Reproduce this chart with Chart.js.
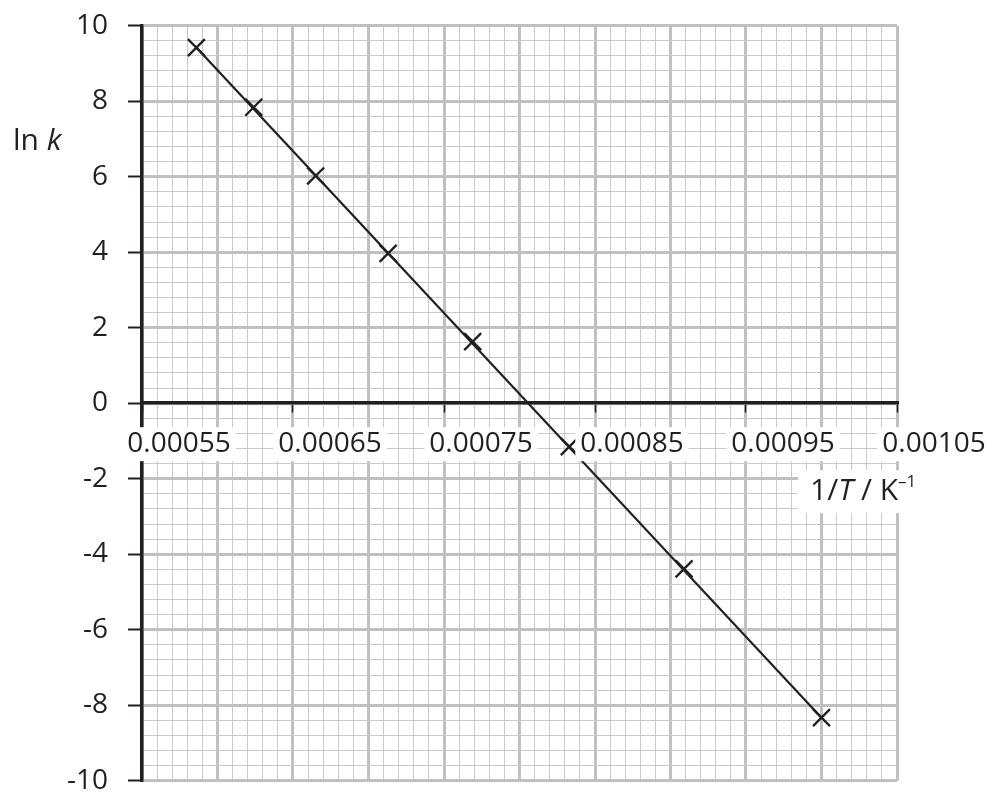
<!DOCTYPE html>
<html><head><meta charset="utf-8">
<script src="https://cdn.jsdelivr.net/npm/chart.js@4"></script>
<style>html,body{margin:0;padding:0;background:#fff;}canvas{display:block;}</style>
</head><body>
<canvas id="c" width="992" height="796"></canvas>
<script>
// Data
const invT = [0.000586, 0.000624, 0.000665, 0.000713, 0.000769, 0.000833, 0.000909, 0.001000];
const lnK  = [9.42, 7.84, 6.02, 3.97, 1.63, -1.15, -4.39, -8.33];
// best-fit line end points
const fitX = [0.000586, 0.001000];
const fitY = [9.42, -8.33];
// tick labels
const xTickValues = [0.00055, 0.00065, 0.00075, 0.00085, 0.00095, 0.00105];
const xTickLabels = ['0.00055', '0.00065', '0.00075', '0.00085', '0.00095', '0.00105'];
const yTickValues = [10, 8, 6, 4, 2, 0, -2, -4, -6, -8, -10];
const yTickLabels = ['10', '8', '6', '4', '2', '0', '-2', '-4', '-6', '-8', '-10'];

const INK = '#231f20';
const MINOR = '#cacacc';
const MAJOR = '#c0c0c2';
const FONT = '"Open Sans", "DejaVu Sans", sans-serif';

function xLabelIndex(v) { return xTickValues.findIndex(t => Math.abs(t - v) < 1e-9); }
function yLabelIndex(v) { return yTickValues.findIndex(t => Math.abs(t - v) < 1e-9); }
function xMajor(v) { return Math.round((v - 0.00055) / 0.00001) % 5 === 0; }
function yMajor(v) { return Math.round(v / 0.4) % 5 === 0; }

const axisTitles = {
  id: 'axisTitles',
  afterDraw(chart) {
    const { ctx, chartArea, scales } = chart;
    ctx.save();
    ctx.textBaseline = 'alphabetic';
    ctx.textAlign = 'left';
    // y title: ln k
    let x = 13, y = chartArea.top + 124;
    ctx.fillStyle = INK;
    ctx.font = `30px ${FONT}`;
    ctx.fillText('ln ', x, y);
    x += ctx.measureText('ln ').width;
    ctx.font = `italic 30px ${FONT}`;
    ctx.fillText('k', x, y);
    // x title: 1/T / K^-1
    const parts = [
      { t: '1/', f: `30px ${FONT}`, dy: 0 },
      { t: 'T', f: `italic 30px ${FONT}`, dy: 0 },
      { t: ' / K', f: `30px ${FONT}`, dy: 0 },
      { t: '\u20131', f: `17px ${FONT}`, dy: -13 }
    ];
    let sx = chartArea.right - 87;
    const by = scales.y.getPixelForValue(0) + 97;
    let w = 0;
    parts.forEach(p => { ctx.font = p.f; p.w = ctx.measureText(p.t).width; w += p.w; });
    ctx.fillStyle = '#ffffff';
    ctx.fillRect(sx - 12, by - 30, w + 18, 43);
    ctx.fillStyle = INK;
    parts.forEach(p => { ctx.font = p.f; ctx.fillText(p.t, sx, by + p.dy); sx += p.w; });
    ctx.restore();
  }
};

new Chart(document.getElementById('c'), {
  type: 'scatter',
  data: {
    datasets: [
      {
        label: 'fit',
        data: fitX.map((v, i) => ({ x: v, y: fitY[i] })),
        showLine: true,
        borderColor: INK,
        borderWidth: 2.2,
        pointRadius: 0,
        pointHoverRadius: 0,
        fill: false
      },
      {
        label: 'points',
        data: invT.map((v, i) => ({ x: v, y: lnK[i] })),
        showLine: false,
        pointStyle: 'crossRot',
        pointRadius: 12,
        pointHoverRadius: 12,
        borderColor: INK,
        backgroundColor: INK,
        borderWidth: 2.3
      }
    ]
  },
  options: {
    responsive: false,
    animation: false,
    devicePixelRatio: 1,
    layout: { padding: { left: 0, top: 25.7, right: 95, bottom: 15.3 } },
    plugins: { legend: { display: false }, tooltip: { enabled: false } },
    events: [],
    scales: {
      x: {
        type: 'linear',
        position: { y: 0 },
        min: 0.00055,
        max: 0.00105,
        grid: {
          color: ctx => xMajor(ctx.tick.value) ? MAJOR : MINOR,
          lineWidth: ctx => xMajor(ctx.tick.value) ? 3 : 1,
          tickLength: 8,
          tickColor: ctx => xLabelIndex(ctx.tick.value) >= 0 ? INK : 'rgba(0,0,0,0)',
          tickWidth: 1.5,
          z: -1
        },
        border: { display: true, color: INK, width: 3.5, z: 0 },
        ticks: {
          stepSize: 0.00001,
          autoSkip: false,
          maxRotation: 0,
          minRotation: 0,
          color: INK,
          font: { family: FONT, size: 28, lineHeight: 1 },
          padding: 19,
          labelOffset: 37,
          showLabelBackdrop: ctx => xLabelIndex(ctx.tick.value) >= 0,
          backdropColor: ctx => xLabelIndex(ctx.tick.value) >= 0 ? '#ffffff' : 'rgba(0,0,0,0)',
          backdropPadding: { top: 3, bottom: 3, left: 5, right: 5 },
          z: 1,
          callback: v => { const i = xLabelIndex(v); return i >= 0 ? xTickLabels[i] : ''; }
        }
      },
      y: {
        type: 'linear',
        position: 'left',
        min: -10,
        max: 10,
        afterFit: s => { s.width = 142; s.paddingTop = 0; s.paddingBottom = 0; },
        grid: {
          color: ctx => yMajor(ctx.tick.value) ? MAJOR : MINOR,
          lineWidth: ctx => yMajor(ctx.tick.value) ? 3 : 1,
          tickLength: 14,
          tickColor: ctx => yLabelIndex(ctx.tick.value) >= 0 ? INK : 'rgba(0,0,0,0)',
          tickWidth: 2,
          z: -1
        },
        border: { display: true, color: INK, width: 3.5, z: 0 },
        ticks: {
          stepSize: 0.4,
          autoSkip: false,
          color: INK,
          font: { family: FONT, size: 28, lineHeight: 1 },
          padding: 20,
          callback: v => { const i = yLabelIndex(v); return i >= 0 ? yTickLabels[i] : ''; }
        }
      }
    }
  },
  plugins: [axisTitles]
});
</script>
</body></html>
